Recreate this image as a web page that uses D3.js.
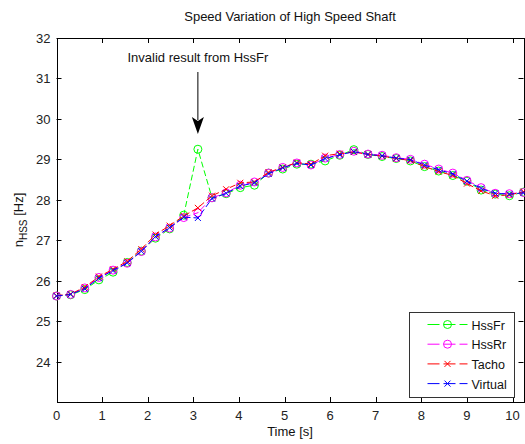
<!DOCTYPE html>
<html>
<head>
<meta charset="utf-8">
<script src="https://cdn.jsdelivr.net/npm/d3@7"></script>
<style>
  body { margin: 0; background: #fff; }
  svg { display: block; font-family: "Liberation Sans", Arial, sans-serif; }
</style>
</head>
<body>
<div id="root"></div>
<script>
// ---------------------------- DATA ----------------------------
const time = [0, 0.31, 0.62, 0.93, 1.24, 1.55, 1.86, 2.17, 2.48, 2.79, 3.10, 3.41, 3.72, 4.03, 4.34, 4.65, 4.96,
    5.27, 5.58, 5.89, 6.21, 6.52, 6.83, 7.14, 7.45, 7.76, 8.07, 8.38, 8.69, 9.00, 9.31, 9.62, 9.93, 10.24];

const hssFr = [25.62, 25.65, 25.78, 26.02, 26.21, 26.45, 26.73, 27.05, 27.28, 27.62, 29.25, 28.05, 28.15, 28.30,
    28.36, 28.66, 28.76, 28.88, 28.88, 28.96, 29.10, 29.24, 29.12, 29.07, 29.02, 28.96, 28.82, 28.71, 28.60,
    28.46, 28.24, 28.14, 28.10, 28.19];
const hssRr = [25.62, 25.66, 25.82, 26.08, 26.26, 26.43, 26.72, 27.08, 27.30, 27.56, 27.68, 28.05, 28.17, 28.36,
    28.44, 28.66, 28.80, 28.91, 28.86, 29.03, 29.12, 29.20, 29.13, 29.10, 29.04, 29.00, 28.88, 28.76, 28.66,
    28.48, 28.30, 28.16, 28.15, 28.18];
const tacho = [25.63, 25.67, 25.84, 26.10, 26.28, 26.48, 26.78, 27.14, 27.36, 27.60, 27.80, 28.10, 28.26, 28.42,
    28.44, 28.68, 28.80, 28.92, 28.88, 29.09, 29.14, 29.18, 29.12, 29.08, 29.02, 28.97, 28.82, 28.70, 28.60,
    28.40, 28.22, 28.10, 28.12, 28.20];
const virtual = [25.62, 25.66, 25.80, 26.06, 26.25, 26.44, 26.73, 27.09, 27.31, 27.57, 27.55, 28.03, 28.16, 28.34,
    28.42, 28.64, 28.79, 28.90, 28.86, 29.02, 29.11, 29.19, 29.12, 29.09, 29.03, 28.99, 28.86, 28.74, 28.64,
    28.46, 28.28, 28.16, 28.14, 28.17];

const seriesNames = ["HssFr", "HssRr", "Tacho", "Virtual"];
const seriesColors = ["#00ff00", "#ff00ff", "#ff0000", "#0000ff"];
const seriesMarkers = ["circle", "circle", "cross", "cross"];
const allSeries = [hssFr, hssRr, tacho, virtual];

const xTicks = [0, 1, 2, 3, 4, 5, 6, 7, 8, 9, 10];
const yTicks = [24, 25, 26, 27, 28, 29, 30, 31, 32];
const xDomain = [0, 10.24];
const yDomain = [23, 32];

// ---------------------------- SETUP ----------------------------
const width = 525;
const height = 444;
const margin = { left: 56.5, right: 1.5, top: 38, bottom: 42 };

const svg = d3.select("#root")
    .append("svg")
    .attr("width", width)
    .attr("height", height);

const x = d3.scaleLinear()
    .domain(xDomain)
    .range([margin.left, width - margin.right]);
const y = d3.scaleLinear()
    .domain(yDomain)
    .range([height - margin.bottom, margin.top]);

const x0 = x.range()[0], x1 = x.range()[1];
const y0 = y.range()[0], y1 = y.range()[1];
const tickLen = 5;

// Ticks on all four sides, pointing inwards (matlab style)
const ticks = svg.append("g").attr("stroke", "#000").attr("stroke-width", 1);
xTicks.forEach(d => {
    const px = Math.round(x(d)) + 0.5;
    ticks.append("line").attr("x1", px).attr("x2", px).attr("y1", y0).attr("y2", y0 - tickLen);
    ticks.append("line").attr("x1", px).attr("x2", px).attr("y1", y1).attr("y2", y1 + tickLen);
});
yTicks.forEach(d => {
    const py = Math.round(y(d)) + 0.5;
    ticks.append("line").attr("x1", x0).attr("x2", x0 + tickLen).attr("y1", py).attr("y2", py);
    ticks.append("line").attr("x1", x1).attr("x2", x1 - tickLen).attr("y1", py).attr("y2", py);
});

svg.append("rect")
    .attr("x", Math.round(x0) + 0.5)
    .attr("y", Math.round(y1) + 0.5)
    .attr("width", Math.round(x1 - x0))
    .attr("height", Math.round(y0 - y1))
    .attr("fill", "none")
    .attr("stroke", "#000");

// Tick labels
svg.append("g").selectAll("text")
    .data(xTicks)
    .enter()
    .append("text")
    .attr("x", d => x(d))
    .attr("y", y0 + 18)
    .attr("text-anchor", "middle")
    .attr("font-size", 13)
    .attr("fill", "#222")
    .text(d => d);

svg.append("g").selectAll("text")
    .data(yTicks)
    .enter()
    .append("text")
    .attr("x", x0 - 6)
    .attr("y", d => y(d) + 5)
    .attr("text-anchor", "end")
    .attr("font-size", 13)
    .attr("fill", "#222")
    .text(d => d);

// Title and axis labels
svg.append("text")
    .attr("x", (x0 + x1) / 2)
    .attr("y", 21)
    .attr("text-anchor", "middle")
    .attr("font-size", 13)
    .attr("fill", "#111")
    .text("Speed Variation of High Speed Shaft");

svg.append("text")
    .attr("x", (x0 + x1) / 2)
    .attr("y", 436)
    .attr("text-anchor", "middle")
    .attr("font-size", 13)
    .attr("fill", "#111")
    .text("Time [s]");

const yLabel = svg.append("text")
    .attr("transform", "translate(23," + ((y0 + y1) / 2) + ") rotate(-90)")
    .attr("text-anchor", "middle")
    .attr("font-size", 13)
    .attr("fill", "#111");
yLabel.append("tspan").text("n");
yLabel.append("tspan").attr("font-size", 10).attr("dy", 4).text("HSS");
yLabel.append("tspan").attr("dy", -4).text(" [Hz]");

// ---------------------------- SERIES ----------------------------
const line = d3.line()
    .x((d, i) => x(time[i]))
    .y(d => y(d));

function drawMarker(g, type, cx, cy, color) {
    if (type === "circle") {
        g.append("circle")
            .attr("cx", cx).attr("cy", cy).attr("r", 4)
            .attr("fill", "none").attr("stroke", color).attr("stroke-width", 1);
    } else {
        const s = 3;
        g.append("path")
            .attr("d", `M${cx - s},${cy - s}L${cx + s},${cy + s}M${cx - s},${cy + s}L${cx + s},${cy - s}`)
            .attr("stroke", color).attr("stroke-width", 1).attr("fill", "none");
    }
}

allSeries.forEach((vals, k) => {
    const g = svg.append("g");
    g.append("path")
        .attr("d", line(vals))
        .attr("fill", "none")
        .attr("stroke", seriesColors[k])
        .attr("stroke-width", 1)
        .attr("stroke-dasharray", "6,3");
    vals.forEach((v, i) => drawMarker(g, seriesMarkers[k], x(time[i]), y(v), seriesColors[k]));
});

// ---------------------------- ANNOTATION ----------------------------
const spikeX = x(time[10]);
svg.append("text")
    .attr("x", spikeX)
    .attr("y", 62)
    .attr("text-anchor", "middle")
    .attr("font-size", 13)
    .attr("fill", "#111")
    .text("Invalid result from HssFr");
svg.append("line")
    .attr("x1", spikeX).attr("x2", spikeX)
    .attr("y1", 72).attr("y2", 120)
    .attr("stroke", "#000").attr("stroke-width", 1);
svg.append("path")
    .attr("d", `M${spikeX - 6},117L${spikeX},134L${spikeX + 6},117L${spikeX},121Z`)
    .attr("fill", "#000");

// ---------------------------- LEGEND ----------------------------
const legend = svg.append("g").attr("transform", "translate(409.5,312.5)");
legend.append("rect")
    .attr("width", 105)
    .attr("height", 85)
    .attr("fill", "#fff")
    .attr("stroke", "#333");

seriesNames.forEach((name, k) => {
    const ly = 12 + k * 19.7;
    const row = legend.append("g");
    row.append("line")
        .attr("x1", 18).attr("x2", 58)
        .attr("y1", ly).attr("y2", ly)
        .attr("stroke", seriesColors[k])
        .attr("stroke-dasharray", "12,4");
    drawMarker(row, seriesMarkers[k], 38, ly, seriesColors[k]);
    row.append("text")
        .attr("x", 62)
        .attr("y", ly + 5)
        .attr("font-size", 12.5)
        .attr("fill", "#111")
        .text(name);
});
</script>
</body>
</html>
